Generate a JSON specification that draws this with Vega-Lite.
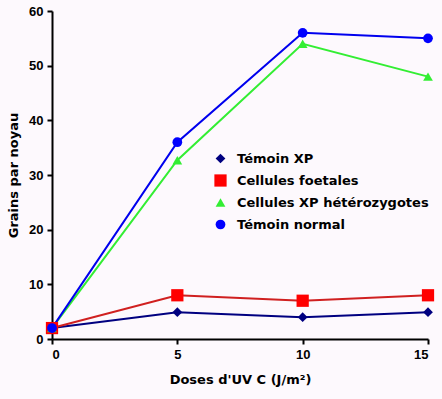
{
  "$schema": "https://vega.github.io/schema/vega-lite/v6.json",
  "width": 376,
  "height": 328,
  "autosize": {"type": "none"},
  "padding": {"left": 52, "top": 11, "right": 14, "bottom": 60},
  "background": "#fdf9fd",
  "config": {
    "view": {"stroke": null},
    "font": "Liberation Sans",
    "axis": {
      "domainColor": "#000000",
      "domainWidth": 2,
      "tickColor": "#000000",
      "tickWidth": 2,
      "tickSize": 5,
      "grid": false,
      "labelFont": "Liberation Sans",
      "labelFontWeight": "bold",
      "labelFontSize": 13,
      "labelColor": "#000000",
      "titleFont": "DejaVu Sans",
      "titleFontWeight": "bold",
      "titleFontSize": 13,
      "titleColor": "#000000"
    },
    "legend": {
      "labelFont": "DejaVu Sans",
      "labelFontWeight": "bold",
      "labelFontSize": 13,
      "labelColor": "#000000",
      "labelLimit": 400
    }
  },
  "data": {
    "values": [
      {"dose": 0, "serie": "Témoin XP", "grains": 2},
      {"dose": 5, "serie": "Témoin XP", "grains": 4.9},
      {"dose": 10, "serie": "Témoin XP", "grains": 4},
      {"dose": 15, "serie": "Témoin XP", "grains": 4.9},
      {"dose": 0, "serie": "Cellules foetales", "grains": 2},
      {"dose": 5, "serie": "Cellules foetales", "grains": 8},
      {"dose": 10, "serie": "Cellules foetales", "grains": 7},
      {"dose": 15, "serie": "Cellules foetales", "grains": 8},
      {"dose": 0, "serie": "Cellules XP hétérozygotes", "grains": 2},
      {"dose": 5, "serie": "Cellules XP hétérozygotes", "grains": 32.7},
      {"dose": 10, "serie": "Cellules XP hétérozygotes", "grains": 54},
      {"dose": 15, "serie": "Cellules XP hétérozygotes", "grains": 48},
      {"dose": 0, "serie": "Témoin normal", "grains": 2},
      {"dose": 5, "serie": "Témoin normal", "grains": 36},
      {"dose": 10, "serie": "Témoin normal", "grains": 56},
      {"dose": 15, "serie": "Témoin normal", "grains": 55}
    ]
  },
  "encoding": {
    "x": {
      "field": "dose", "type": "quantitative",
      "scale": {"domain": [0, 15], "nice": false, "zero": false},
      "axis": {"values": [0, 5, 10, 15], "title": "Doses d'UV C (J/m²)", "labelPadding": 4, "titlePadding": 12}
    },
    "y": {
      "field": "grains", "type": "quantitative",
      "scale": {"domain": [0, 60], "nice": false},
      "axis": {"values": [0, 10, 20, 30, 40, 50, 60], "title": "Grains par noyau", "labelPadding": 4, "titlePadding": 8}
    }
  },
  "layer": [
    {
      "mark": {"type": "line", "strokeWidth": 2},
      "encoding": {
        "stroke": {
          "field": "serie", "type": "nominal",
          "scale": {
            "domain": ["Témoin XP", "Cellules foetales", "Cellules XP hétérozygotes", "Témoin normal"],
            "range": ["#000080", "#d02020", "#33ee33", "#0000ee"]
          },
          "legend": null
        }
      }
    },
    {
      "mark": {"type": "point", "filled": true, "opacity": 1},
      "encoding": {
        "color": {
          "field": "serie", "type": "nominal",
          "scale": {
            "domain": ["Témoin XP", "Cellules foetales", "Cellules XP hétérozygotes", "Témoin normal"],
            "range": ["#000080", "#ff0000", "#33ee33", "#0000ff"]
          },
          "legend": {
            "title": null, "orient": "none", "legendX": 162, "legendY": 141,
            "rowPadding": 8, "labelOffset": 10, "symbolOpacity": 1, "labelLimit": 400,
            "encode": {
              "symbols": {
                "update": {
                  "shape": {"scale": "shape", "field": "value"},
                  "size": {"signal": "datum.value === 'Cellules foetales' ? 150 : 95"}
                }
              }
            }
          }
        },
        "shape": {
          "field": "serie", "type": "nominal",
          "scale": {
            "domain": ["Témoin XP", "Cellules foetales", "Cellules XP hétérozygotes", "Témoin normal"],
            "range": ["diamond", "square", "triangle-up", "circle"]
          },
          "legend": null
        },
        "size": {
          "condition": {"test": "datum.serie === 'Cellules foetales'", "value": 150},
          "value": 95
        }
      }
    }
  ],
  "resolve": {"scale": {"color": "independent"}}
}
